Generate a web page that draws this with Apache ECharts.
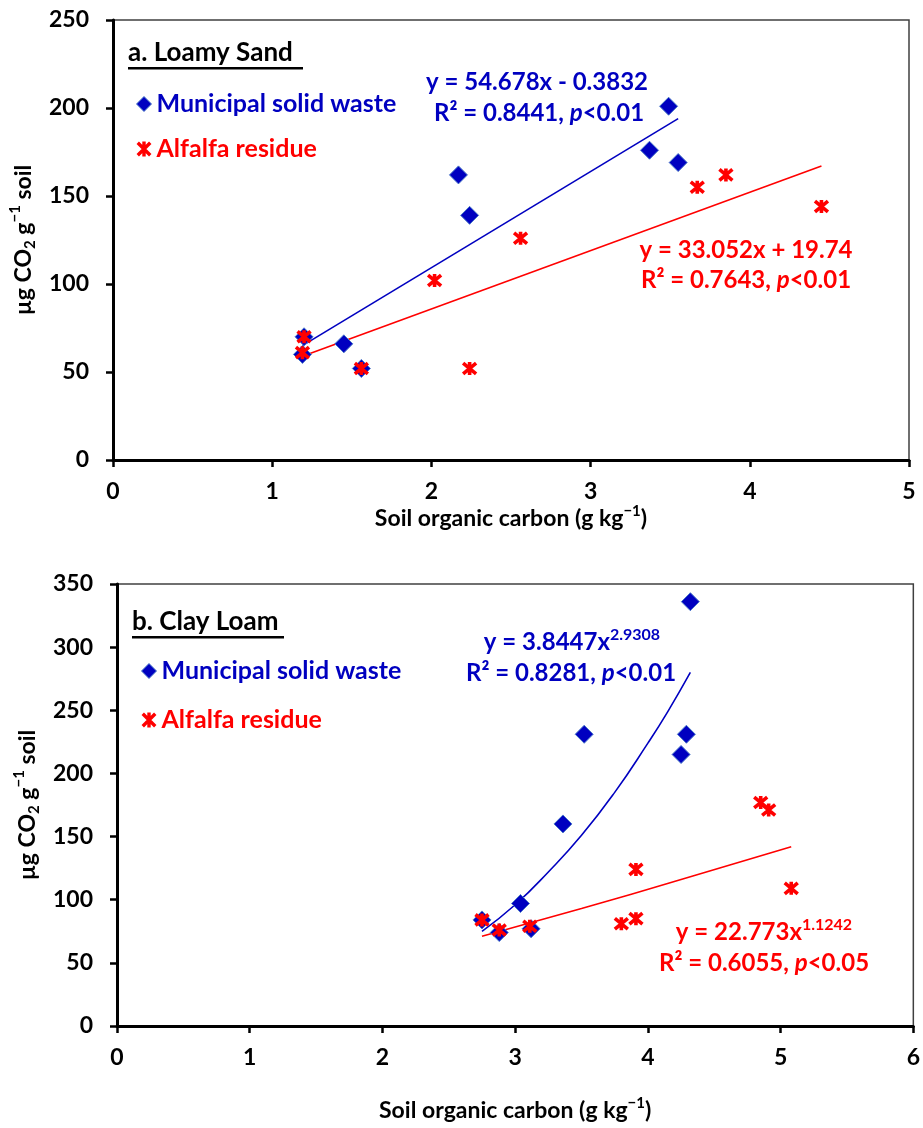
<!DOCTYPE html>
<html>
<head>
<meta charset="utf-8">
<script src="https://cdn.jsdelivr.net/npm/echarts@6/dist/echarts.min.js"></script>
<style>
    html, body { margin: 0; padding: 0; background: #fff; }
    #chart { width: 923px; height: 1128px; }
</style>
</head>
<body>
<div id="chart"></div>
<script>
// a. Loamy Sand  [soil organic carbon, ug CO2 per g soil]
let sand_msw = [[1.19, 60], [1.20, 70], [1.45, 66], [1.56, 52], [2.17, 162], [2.24, 139], [3.37, 176], [3.49, 201], [3.55, 169]];
let sand_alfalfa = [[1.20, 70], [1.19, 61], [1.56, 52], [2.02, 102], [2.24, 52], [2.56, 126], [3.67, 155], [3.85, 162], [4.45, 144]];
let sand_msw_fit = [[1.19, 65], [3.55, 194]];
let sand_alfalfa_fit = [[1.19, 59], [4.45, 167]];

// b. Clay Loam
let clay_msw = [[2.75, 84], [2.88, 74], [3.12, 77], [3.04, 97], [3.36, 160], [3.52, 231], [4.25, 215], [4.29, 231], [4.32, 336]];
let clay_alfalfa = [[2.75, 84], [2.88, 76], [3.11, 79], [3.80, 81], [3.91, 85], [3.91, 124], [4.85, 177], [4.91, 171], [5.08, 109]];
let clay_msw_fit = [[2.75, 75], [3.0, 96], [3.25, 122], [3.5, 151], [3.75, 185], [4.0, 224], [4.15, 249], [4.32, 280]];
let clay_alfalfa_fit = [[2.75, 71], [3.5, 93], [4.25, 116], [5.08, 142]];

let sand_x_ticks = [0, 5];
let sand_y_ticks = [0, 250];
let clay_x_ticks = [0, 6];
let clay_y_ticks = [0, 350];

const BLUE = '#0000c0';
const RED = '#ff0000';
const FONT = 'Lato';
const CROSS = 'path://M0,0L10,10M10,0L0,10M5,-1L5,11';

let name_rich = {
    a: { fontFamily: FONT, fontWeight: 'bold', fontSize: 23, lineHeight: 30, color: '#000' },
    sub: { fontFamily: FONT, fontWeight: 'bold', fontSize: 15, lineHeight: 15, verticalAlign: 'bottom', color: '#000' },
    sup: { fontFamily: FONT, fontWeight: 'bold', fontSize: 15, lineHeight: 15, verticalAlign: 'top', color: '#000' }
};

function make_x(grid, ticks, gap) {
    return {
        type: 'value', gridIndex: grid, min: ticks[0], max: ticks[1], interval: 1,
        name: '{a|Soil organic carbon (g kg}{sup|\u22121}{a|)}',
        nameLocation: 'middle', nameGap: gap,
        nameTextStyle: { rich: name_rich },
        splitLine: { show: false },
        axisLine: { onZero: false, lineStyle: { color: '#000', width: 3 } },
        axisTick: { length: 7, lineStyle: { color: '#000', width: 2.5 } },
        axisLabel: { margin: 20, color: '#000', fontFamily: FONT, fontWeight: 'bold', fontSize: 23 }
    };
}

function make_y(grid, ticks) {
    return {
        type: 'value', gridIndex: grid, min: ticks[0], max: ticks[1], interval: 50,
        name: '{a|\u00b5g CO}{sub|2}{a| g}{sup|\u22121}{a| soil}',
        nameLocation: 'middle', nameGap: 70, nameRotate: 90,
        nameTextStyle: { rich: name_rich },
        splitLine: { show: false },
        axisLine: { onZero: false, lineStyle: { color: '#000', width: 3 } },
        axisTick: { length: 7, lineStyle: { color: '#000', width: 2.5 } },
        axisLabel: { margin: 24, color: '#000', fontFamily: FONT, fontWeight: 'bold', fontSize: 23 }
    };
}

function scatter(name, grid, data, is_msw) {
    return {
        name: name, type: 'scatter', xAxisIndex: grid, yAxisIndex: grid, data: data,
        symbol: is_msw ? 'diamond' : CROSS,
        symbolSize: is_msw ? 18 : 13,
        itemStyle: is_msw
            ? { color: BLUE, borderColor: '#4a78c8', borderWidth: 1, opacity: 1 }
            : { color: 'transparent', borderColor: RED, borderWidth: 3.6, opacity: 1 },
        z: is_msw ? 3 : 4
    };
}

function fit_line(grid, data, color, smooth) {
    return {
        name: 'fit', type: 'line', xAxisIndex: grid, yAxisIndex: grid, data: data,
        showSymbol: false, smooth: smooth, silent: true,
        lineStyle: { color: color, width: 1.6 }, z: 2
    };
}

function legend_at(left, top, gap) {
    return {
        left: left, top: top, orient: 'vertical', itemGap: gap, itemWidth: 15, itemHeight: 15,
        selectedMode: false,
        textStyle: { fontFamily: FONT, fontWeight: 'bold', fontSize: 25, lineHeight: 26 },
        data: [
            { name: 'Municipal solid waste', icon: 'diamond', textStyle: { color: BLUE },
              itemStyle: { color: BLUE, borderColor: '#4a78c8', borderWidth: 1, opacity: 1 } },
            { name: 'Alfalfa residue', icon: CROSS, textStyle: { color: RED },
              itemStyle: { color: 'transparent', borderColor: RED, borderWidth: 3.4, opacity: 1 } }
        ]
    };
}

let eq_rich = function (color) {
    return {
        n: { fontFamily: FONT, fontWeight: 'bold', fontSize: 24, lineHeight: 30, fill: color },
        i: { fontFamily: FONT, fontWeight: 'bold', fontStyle: 'italic', fontSize: 24, lineHeight: 30, fill: color },
        s: { fontFamily: FONT, fontWeight: 'bold', fontSize: 16, lineHeight: 17, verticalAlign: 'top', fill: color }
    };
};

function eq_text(x, y, text, color) {
    return {
        type: 'text', x: x, y: y, z: 10,
        style: { text: text, rich: eq_rich(color), align: 'center', verticalAlign: 'middle',
                 textAlign: 'center', textVerticalAlign: 'middle' }
    };
}

function panel_title(x, y, text, width) {
    return [
        { type: 'text', x: x, y: y, z: 10,
          style: { text: text, fill: '#000', font: 'bold 26px ' + FONT, verticalAlign: 'middle', textVerticalAlign: 'middle' } },
        { type: 'rect', z: 10, shape: { x: x, y: y + 14, width: width, height: 2.5 }, style: { fill: '#000' } }
    ];
}

let chart = echarts.init(document.getElementById('chart'));
chart.setOption({
    animation: false,
    backgroundColor: '#fff',
    grid: [
        { left: 113, top: 20, width: 796, height: 440, show: true, borderColor: '#404040', borderWidth: 1.5 },
        { left: 117, top: 584, width: 799, height: 442, show: true, borderColor: '#404040', borderWidth: 1.5 }
    ],
    xAxis: [make_x(0, sand_x_ticks, 39), make_x(1, clay_x_ticks, 70)],
    yAxis: [make_y(0, sand_y_ticks), make_y(1, clay_y_ticks)],
    legend: [legend_at(131, 86, 19), legend_at(136, 653, 23)],
    series: [
        fit_line(0, sand_msw_fit, BLUE, false),
        fit_line(0, sand_alfalfa_fit, RED, false),
        scatter('Municipal solid waste', 0, sand_msw, true),
        scatter('Alfalfa residue', 0, sand_alfalfa, false),
        fit_line(1, clay_msw_fit, BLUE, true),
        fit_line(1, clay_alfalfa_fit, RED, true),
        scatter('Municipal solid waste', 1, clay_msw, true),
        scatter('Alfalfa residue', 1, clay_alfalfa, false)
    ],
    graphic: [].concat(
        panel_title(128, 53, 'a. Loamy Sand', 175),
        panel_title(132, 622, 'b. Clay Loam', 152),
        [
            eq_text(537, 82, '{n|y = 54.678x - 0.3832}', BLUE),
            eq_text(539, 113, '{n|R\u00b2 = 0.8441, }{i|p}{n|<0.01}', BLUE),
            eq_text(746, 250, '{n|y = 33.052x + 19.74}', RED),
            eq_text(746, 280, '{n|R\u00b2 = 0.7643, }{i|p}{n|<0.01}', RED),
            eq_text(572, 642, '{n|y = 3.8447x}{s|2.9308}', BLUE),
            eq_text(571, 673, '{n|R\u00b2 = 0.8281, }{i|p}{n|<0.01}', BLUE),
            eq_text(764, 932, '{n|y = 22.773x}{s|1.1242}', RED),
            eq_text(764, 963, '{n|R\u00b2 = 0.6055, }{i|p}{n|<0.05}', RED)
        ]
    )
});

window.addEventListener('resize', function () {
    chart.resize();
});
</script>
</body>
</html>
